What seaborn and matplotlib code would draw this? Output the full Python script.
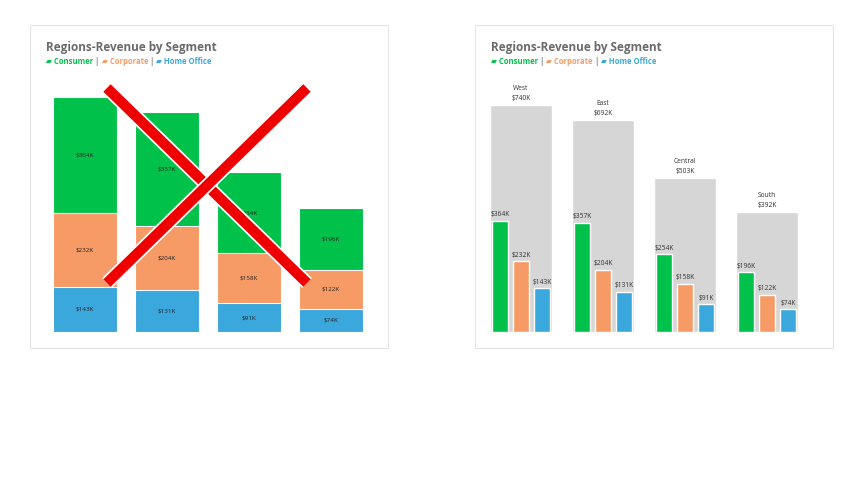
import matplotlib
matplotlib.use("Agg")
import matplotlib.pyplot as plt
import seaborn as sns
import pandas as pd
import numpy as np
from matplotlib.patches import Rectangle
from matplotlib.lines import Line2D

regions = ["West", "East", "Central", "South"]
segments = ["Consumer", "Corporate", "Home Office"]
consumer = [364, 357, 254, 196]
corporate = [232, 204, 158, 122]
home_office = [143, 131, 91, 74]
totals = [740, 692, 503, 392]

colors = {"Consumer": "#00C24A", "Corporate": "#F79B66", "Home Office": "#3AA8DC"}
sns.set_theme(style="white")
plt.rcParams['font.family'] = ['Open Sans', 'DejaVu Sans']

W, H = 860, 484
fig = plt.figure(figsize=(8.6, 4.84), dpi=100)

def fx(x): return x / W
def fy(y): return 1 - y / H

# panel frames
for x0 in (30, 475):
    fig.add_artist(Rectangle((fx(x0), fy(348)), 358 / W, 323 / H, transform=fig.transFigure,
                             fill=False, edgecolor="#E4E4E4", lw=0.8))

def header(x0):
    fig.text(fx(x0 + 16), fy(48), "Regions-Revenue by Segment", fontsize=8.5, fontweight="bold",
             color="#6B6B6B", va="center")
    x = x0 + 16
    parts = [("▰ Consumer", colors["Consumer"]), (" | ", "#888888"), ("▰ Corporate", colors["Corporate"]),
             (" | ", "#888888"), ("▰ Home Office", colors["Home Office"])]
    t = None
    for i, (s, c) in enumerate(parts):
        if t is None:
            t = fig.text(fx(x), fy(61), s, fontsize=5.5, fontweight="bold", color=c, va="center")
        else:
            t = fig.text(0, 0, s, fontsize=5.5, fontweight="bold", color=c, va="center",
                         transform=matplotlib.transforms.offset_copy(t.get_transform(), fig=fig, x=0, y=0))
            fig.canvas.draw()
            bb = prev.get_window_extent()
            t.set_transform(fig.transFigure)
            t.set_position((bb.x1 / fig.bbox.width, fy(61)))
        prev = t
        fig.canvas.draw()

header(30)
header(475)

# left stacked chart
axL = fig.add_axes([fx(44), fy(332), 328 / W, 254 / H])
cum3 = np.array(consumer) + np.array(corporate) + np.array(home_office)
cum2 = np.array(corporate) + np.array(home_office)
for vals, seg in [(cum3, "Consumer"), (cum2, "Corporate"), (np.array(home_office), "Home Office")]:
    sns.barplot(x=regions, y=vals, color=colors[seg], width=0.78, edgecolor="white", linewidth=0.8,
                saturation=1, ax=axL)
bottoms = [np.array(home_office), cum2]
for i in range(4):
    axL.text(i, home_office[i] / 2, f"${home_office[i]}K", ha="center", va="center", fontsize=4.5, color="#222")
    axL.text(i, home_office[i] + corporate[i] / 2, f"${corporate[i]}K", ha="center", va="center", fontsize=4.5, color="#222")
    axL.text(i, cum2[i] + consumer[i] / 2, f"${consumer[i]}K", ha="center", va="center", fontsize=4.5, color="#222")
axL.set_xlim(-0.5, 3.5); axL.set_ylim(0, 800)
axL.axis("off")

# red X
for (x1, y1, x2, y2) in [(107, 88, 307, 283), (307, 88, 107, 283)]:
    for lw, c in [(10, "white"), (7.5, "#EE0000")]:
        fig.add_artist(Line2D([fx(x1), fx(x2)], [fy(y1), fy(y2)], transform=fig.transFigure,
                              color=c, lw=lw, solid_capstyle="butt"))

# right grouped chart
axR = fig.add_axes([fx(480), fy(332), 328 / W, 245 / H])
sns.barplot(x=regions, y=totals, color="#D6D6D6", width=0.76, saturation=1, ax=axR)
df = pd.DataFrame({"Region": regions * 3,
                   "Segment": sum([[s] * 4 for s in segments], []),
                   "Value": consumer + corporate + home_office})
sns.barplot(data=df, x="Region", y="Value", hue="Segment", palette=colors, width=0.77, gap=0.24,
            saturation=1, legend=False, ax=axR)
offs = [-0.256, 0, 0.256]
for j, vals in enumerate([consumer, corporate, home_office]):
    for i, v in enumerate(vals):
        axR.text(i + offs[j], v + 8, f"${v}K", ha="center", va="bottom", fontsize=4.8, color="#333")
for i, t in enumerate(totals):
    axR.text(i, t + 10, f"{regions[i]}\n${t}K", ha="center", va="bottom", fontsize=4.8, color="#333",
             linespacing=1.6)
axR.set_xlim(-0.5, 3.5); axR.set_ylim(0, 800)
axR.axis("off")

fig.savefig("out.png", dpi=100, facecolor="white")
